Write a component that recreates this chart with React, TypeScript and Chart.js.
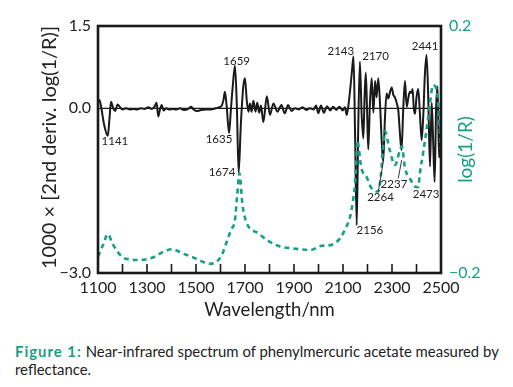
import React, { useEffect, useRef } from "react";
import { Chart, registerables } from "chart.js";

Chart.register(...registerables);

// 2nd derivative spectrum (left axis): wavelength (nm) and 1000 x d2 log(1/R)
const DERIV_NM = [
  1100, 1106, 1113, 1125, 1140, 1147, 1153, 1162, 1170, 1180, 1190, 1200, 1215, 1230, 1245, 1260, 1275, 1290,
  1305, 1320, 1332, 1339, 1346, 1353, 1360, 1368, 1378, 1390, 1405, 1420, 1435, 1450, 1465, 1480, 1490, 1505,
  1520, 1540, 1560, 1580, 1595, 1605, 1612, 1618, 1625, 1635, 1642, 1650, 1659, 1667, 1674, 1683, 1693, 1700,
  1707, 1714, 1720, 1727, 1734, 1743, 1750, 1758, 1765, 1775, 1789, 1802, 1816, 1832, 1849, 1862, 1876, 1890,
  1905, 1920, 1935, 1950, 1965, 1980, 1990, 1999, 2010, 2022, 2035, 2048, 2060, 2072, 2085, 2098, 2108, 2115,
  2122, 2129, 2136, 2143, 2149, 2156, 2162, 2169, 2176, 2183, 2188, 2193, 2198, 2203, 2210, 2217, 2224, 2231,
  2237, 2244, 2252, 2258, 2264, 2271, 2278, 2285, 2292, 2299, 2305, 2312, 2319, 2326, 2333, 2339, 2346, 2353,
  2360, 2367, 2373, 2379, 2384, 2389, 2394, 2400, 2407, 2414, 2421, 2428, 2434, 2441, 2448, 2455, 2462, 2468,
  2474, 2480, 2486, 2492, 2497, 2500,
];
const DERIV_VAL = [
  0.1, 0.15, 0.02, -0.3, -0.5, -0.18, 0.12, 0.0, -0.05, 0.07, 0.02, -0.02, 0.0, -0.02, -0.01, -0.02, 0.0, -0.01,
  0.02, -0.01, 0.04, 0.1, -0.15, -0.02, 0.06, -0.04, 0.0, -0.02, -0.01, -0.02, 0.0, -0.03, -0.02, 0.03, -0.02, -0.05,
  -0.03, -0.02, -0.02, 0.0, 0.02, 0.05, 0.15, 0.3, 0.05, -0.45, -0.05, 0.4, 0.78, 0.0, -1.17, -0.3, 0.4, 0.55,
  0.15, -0.06, 0.09, -0.06, 0.14, -0.06, 0.1, -0.08, 0.05, -0.25, 0.22, -0.12, 0.09, -0.06, 0.06, -0.09, 0.06, -0.05,
  0.0, -0.02, 0.02, -0.03, 0.0, -0.02, 0.05, -0.09, 0.05, -0.08, 0.04, -0.04, 0.03, -0.03, 0.03, -0.04, 0.02, -0.12,
  0.05, 0.33, 0.65, 0.95, -0.4, -2.13, -0.4, 0.85, -0.1, -0.55, 0.2, 0.65, 0.0, -0.75, 0.1, 0.55, -0.08, 0.5,
  0.2, 0.55, 0.0, -0.6, -0.97, -0.2, 0.27, 0.18, 0.3, 0.38, 0.25, 0.2, 0.1, -0.05, -0.5, -0.76, 0.0, 0.5,
  0.03, 0.2, 0.3, 0.28, 0.35, 0.0, -0.1, 0.2, 0.35, -0.1, -0.58, -0.1, 0.6, 0.97, 0.2, -1.06, 0.1, -0.6,
  -1.34, 0.0, 0.4, -0.9, -0.5, -0.3,
];

// log(1/R) spectrum (right axis)
const LOGR_NM = [
  1100, 1120, 1140, 1160, 1197, 1230, 1265, 1326, 1370, 1401, 1450, 1496, 1557, 1602, 1625, 1643, 1659, 1668,
  1677, 1690, 1707, 1754, 1795, 1843, 1890, 1924, 1965, 2013, 2047, 2088, 2110, 2129, 2140, 2149, 2154, 2158,
  2175, 2197, 2215, 2244, 2255, 2262, 2271, 2290, 2312, 2340, 2353, 2373, 2394, 2407, 2414, 2428, 2441, 2455,
  2467, 2483, 2496, 2500,
];
const LOGR_VAL = [
  -0.1735, -0.155, -0.137, -0.153, -0.1735, -0.178, -0.179, -0.1745, -0.165, -0.1616, -0.169, -0.176, -0.185,
  -0.1735, -0.15, -0.13, -0.114, -0.075, -0.0385, -0.09, -0.119, -0.1356, -0.148, -0.157, -0.16, -0.1616, -0.163,
  -0.156, -0.155, -0.144, -0.128, -0.109, -0.085, -0.055, -0.02, 0.015, -0.03, -0.045, -0.062, -0.068, -0.04,
  -0.005, 0.03, 0.0, -0.025, 0.005, -0.03, -0.047, -0.06, -0.061, -0.038, -0.003, 0.032, 0.075, 0.104, 0.096,
  0.027, 0.0,
];

// Left axis ticks and right axis ticks
const LEFT_TICKS = [-3.0, 0.0, 1.5];
const RIGHT_TICKS = [-0.2, 0.2];

// Peak labels: text, wavelength, left-axis value of label centre
const PEAK_TEXT = ["1141", "1635", "1659", "1674", "2143", "2170", "2441", "2156", "2264", "2237", "2473"];
const PEAK_NM = [1169, 1594, 1666, 1606, 2091, 2233, 2435, 2210, 2253, 2308, 2439];
const PEAK_VAL = [-0.6, -0.56, 0.86, -1.17, 1.045, 0.953, 1.136, -2.226, -1.625, -1.379, -1.561];

// Leader lines: [nm1, val1, nm2, val2]
const LEADERS = [
  [2244, -1.52, 2264.5, -0.97],
  [2325.7, -1.275, 2339.6, -0.94],
];

const GREEN = "#17a085";
const BLACK = "#1a1a1a";
const FONT = "Lato, 'Open Sans', sans-serif";

const fmt = (v: number) => {
  const s = Math.abs(v).toFixed(1);
  return v < 0 ? "\u2212" + s : s;
};

const overlay = {
  id: "overlay",
  beforeDatasetsDraw(chart: any) {
    const { ctx, chartArea, scales } = chart;
    const y0 = scales.y.getPixelForValue(0);
    ctx.save();
    ctx.strokeStyle = BLACK;
    ctx.lineWidth = 1.2;
    ctx.beginPath();
    ctx.moveTo(chartArea.left, y0);
    ctx.lineTo(chartArea.right, y0);
    ctx.stroke();
    ctx.restore();
  },
  afterDraw(chart: any) {
    const { ctx, chartArea, scales } = chart;
    const { left, right, top, bottom } = chartArea;
    const x = scales.x;
    const y = scales.y;
    ctx.save();
    // frame
    ctx.strokeStyle = BLACK;
    ctx.lineWidth = 2.6;
    ctx.strokeRect(left, top, right - left, bottom - top);
    // inward tick marks
    ctx.lineWidth = 1.6;
    for (let v = 1200; v < 2500; v += 100) {
      const px = x.getPixelForValue(v);
      ctx.beginPath();
      ctx.moveTo(px, bottom);
      ctx.lineTo(px, bottom - 9);
      ctx.stroke();
    }
    // peak labels
    ctx.fillStyle = "#222";
    ctx.font = `11.5px ${FONT}`;
    ctx.textAlign = "center";
    ctx.textBaseline = "middle";
    PEAK_TEXT.forEach((t, i) => {
      ctx.fillText(t, x.getPixelForValue(PEAK_NM[i]), y.getPixelForValue(PEAK_VAL[i]));
    });
    ctx.lineWidth = 0.9;
    ctx.strokeStyle = "#222";
    LEADERS.forEach((l) => {
      ctx.beginPath();
      ctx.moveTo(x.getPixelForValue(l[0]), y.getPixelForValue(l[1]));
      ctx.lineTo(x.getPixelForValue(l[2]), y.getPixelForValue(l[3]));
      ctx.stroke();
    });
    // axis titles
    ctx.fillStyle = "#222";
    ctx.font = `18.5px ${FONT}`;
    ctx.textAlign = "center";
    ctx.textBaseline = "alphabetic";
    ctx.fillText("Wavelength/nm", (left + right) / 2, 316);

    ctx.save();
    ctx.translate(56, (top + bottom) / 2 - 2);
    ctx.rotate(-Math.PI / 2);
    ctx.font = `20px ${FONT}`;
    ctx.fillText("1000 \u00d7 [2nd deriv. log(1/R)]", 0, 0);
    ctx.restore();

    ctx.save();
    ctx.translate(472, (top + bottom) / 2);
    ctx.rotate(-Math.PI / 2);
    ctx.font = `19px ${FONT}`;
    ctx.fillStyle = GREEN;
    ctx.fillText("log(1/R)", 0, 0);
    ctx.restore();

    ctx.restore();
  },
};

export default function App() {
  const ref = useRef<HTMLCanvasElement | null>(null);

  useEffect(() => {
    if (!ref.current) return;
    const chart = new Chart(ref.current, {
      type: "line",
      data: {
        datasets: [
          {
            label: "log(1/R)",
            data: LOGR_NM.map((n, i) => ({ x: n, y: LOGR_VAL[i] })),
            borderColor: GREEN,
            borderWidth: 2.6,
            borderDash: [5, 4],
            pointRadius: 0,
            cubicInterpolationMode: "monotone",
            yAxisID: "y1",
            order: 0,
          },
          {
            label: "2nd derivative",
            data: DERIV_NM.map((n, i) => ({ x: n, y: DERIV_VAL[i] })),
            borderColor: BLACK,
            borderWidth: 2,
            pointRadius: 0,
            cubicInterpolationMode: "monotone",
            yAxisID: "y",
            order: 1,
          },
        ],
      },
      options: {
        responsive: false,
        animation: false,
        devicePixelRatio: 1,
        layout: { padding: { top: 26, left: 0, right: 0, bottom: 0 } },
        plugins: { legend: { display: false }, tooltip: { enabled: false } },
        scales: {
          x: {
            type: "linear",
            min: 1100,
            max: 2500,
            grid: { display: false, drawTicks: false },
            border: { display: false },
            ticks: {
              stepSize: 100,
              autoSkip: false,
              maxRotation: 0,
              padding: 5,
              color: "#222",
              font: { family: FONT, size: 16 },
              callback: (v: any) => ((Number(v) - 1100) % 200 === 0 ? String(v) : ""),
            },
            afterFit: (s: any) => {
              s.height = 57;
            },
          },
          y: {
            position: "left",
            min: -3,
            max: 1.5,
            grid: { display: false, drawTicks: false },
            border: { display: false },
            afterBuildTicks: (s: any) => {
              s.ticks = LEFT_TICKS.map((v) => ({ value: v }));
            },
            ticks: {
              padding: 7,
              color: "#222",
              font: { family: FONT, size: 16 },
              callback: (v: any) => fmt(Number(v)),
            },
            afterFit: (s: any) => {
              s.width = 98;
            },
          },
          y1: {
            position: "right",
            min: -0.2,
            max: 0.2,
            grid: { display: false, drawTicks: false },
            border: { display: false },
            afterBuildTicks: (s: any) => {
              s.ticks = RIGHT_TICKS.map((v) => ({ value: v }));
            },
            ticks: {
              padding: 8,
              color: GREEN,
              font: { family: FONT, size: 16 },
              callback: (v: any) => fmt(Number(v)),
            },
            afterFit: (s: any) => {
              s.width = 72;
            },
          },
        },
      },
      plugins: [overlay],
    } as any);
    return () => chart.destroy();
  }, []);

  return (
    <div
      style={{
        position: "fixed",
        left: 0,
        top: 0,
        width: 513,
        height: 387,
        background: "#fff",
        overflow: "hidden",
      }}
    >
      <canvas ref={ref} width={513} height={330} style={{ position: "absolute", left: 0, top: 0 }} />
      <div
        style={{
          position: "absolute",
          left: 15,
          top: 342,
          width: 498,
          fontFamily: FONT,
          fontSize: 14.9,
          lineHeight: "18px",
          color: "#222",
          whiteSpace: "nowrap",
        }}
      >
        <span style={{ color: GREEN, fontWeight: 700, letterSpacing: 1 }}>Figure 1:</span> Near-infrared spectrum of
        phenylmercuric acetate measured by
        <br />
        reflectance.
      </div>
    </div>
  );
}
